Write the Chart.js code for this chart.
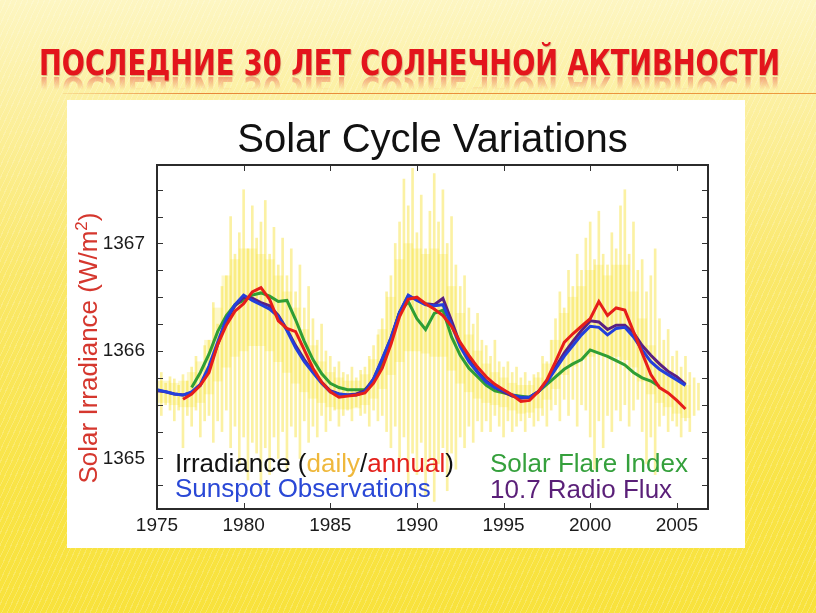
<!DOCTYPE html>
<html lang="ru">
<head>
<meta charset="utf-8">
<title>Последние 30 лет солнечной активности</title>
<script src="https://cdn.jsdelivr.net/npm/chart.js@4.4.1/dist/chart.umd.min.js"></script>
<style>
  html, body { margin: 0; padding: 0; }
  body {
    width: 816px; height: 613px; overflow: hidden; position: relative;
    background:
      repeating-linear-gradient(115deg, rgba(255,255,255,0.20) 0 1px, rgba(255,255,255,0) 1px 5px),
      linear-gradient(to bottom, #fdf6c2 0%, #fcf0a2 16%, #fae86a 45%, #f9e446 80%, #f8e23c 100%);
  }
  .ttl {
    position: absolute; left: 39px; top: 45px;
    font: bold 36px "Liberation Sans Narrow", "DejaVu Sans Condensed", "Arial Narrow", sans-serif;
    line-height: 36px; white-space: nowrap; color: #e3151c;
    transform-origin: 0 0;
  }
  #ttl { text-shadow: 1px 1px 1px rgba(110,0,0,0.25); }
  #refl {
    opacity: 0.38;
    filter: blur(0.7px);
    -webkit-mask-image: linear-gradient(to bottom, rgba(0,0,0,0) 0px, rgba(0,0,0,0) 17px, rgba(0,0,0,1) 31px);
    mask-image: linear-gradient(to bottom, rgba(0,0,0,0) 0px, rgba(0,0,0,0) 17px, rgba(0,0,0,1) 31px);
  }
  #rule {
    position: absolute; left: 63px; top: 93px; width: 753px; height: 1px;
    background: linear-gradient(to right, rgba(232,120,40,0.15), #e8883a 18%, #ec9a40);
  }
  #box { position: absolute; left: 67px; top: 100px; width: 678px; height: 448px; background: #fff; }
  #chart { display: block; }
</style>
</head>
<body>
<div class="ttl" id="ttl">ПОСЛЕДНИЕ 30 ЛЕТ СОЛНЕЧНОЙ АКТИВНОСТИ</div>
<div class="ttl" id="refl" aria-hidden="true">ПОСЛЕДНИЕ 30 ЛЕТ СОЛНЕЧНОЙ АКТИВНОСТИ</div>
<div id="rule"></div>
<div id="box"><canvas id="chart" width="678" height="448"></canvas></div>
<script>
  // годы (шаг 0.5) для сглаженных рядов
  const years = [1975,1975.5,1976,1976.5,1977,1977.5,1978,1978.5,1979,1979.5,
    1980,1980.5,1981,1981.5,1982,1982.5,1983,1983.5,1984,1984.5,
    1985,1985.5,1986,1986.5,1987,1987.5,1988,1988.5,1989,1989.5,
    1990,1990.5,1991,1991.5,1992,1992.5,1993,1993.5,1994,1994.5,
    1995,1995.5,1996,1996.5,1997,1997.5,1998,1998.5,1999,1999.5,
    2000,2000.5,2001,2001.5,2002,2002.5,2003,2003.5,2004,2004.5,
    2005,2005.5];

  const irradianceAnnual = [null,null,null,1365.55,1365.60,1365.68,1365.80,1366.06,1366.24,1366.37,
    1366.44,1366.55,1366.59,1366.48,1366.28,1366.21,1366.18,1366.01,1365.84,1365.71,
    1365.62,1365.57,1365.58,1365.59,1365.61,1365.70,1365.84,1366.06,1366.32,1366.48,
    1366.50,1366.44,1366.39,1366.33,1366.23,1366.08,1365.96,1365.85,1365.76,1365.69,
    1365.64,1365.59,1365.53,1365.54,1365.62,1365.73,1365.90,1366.08,1366.16,1366.23,
    1366.30,1366.46,1366.33,1366.40,1366.38,1366.18,1365.98,1365.78,1365.66,1365.61,
    1365.54,1365.46];

  const sunspot = [1365.64,1365.62,1365.60,1365.59,1365.62,1365.69,1365.86,1366.08,1366.30,1366.43,
    1366.52,1366.47,1366.43,1366.39,1366.32,1366.19,1366.03,1365.90,1365.80,1365.70,
    1365.62,1365.60,1365.59,1365.59,1365.62,1365.74,1365.93,1366.12,1366.36,1366.52,
    1366.47,1366.43,1366.42,1366.43,1366.24,1366.04,1365.90,1365.80,1365.71,1365.66,
    1365.63,1365.59,1365.57,1365.57,1365.62,1365.71,1365.83,1365.95,1366.05,1366.15,
    1366.23,1366.22,1366.15,1366.21,1366.22,1366.13,1366.01,1365.90,1365.83,1365.78,
    1365.73,1365.68];

  const flareIndex = [null,null,null,null,1365.66,1365.80,1365.97,1366.18,1366.33,1366.43,
    1366.47,1366.52,1366.54,1366.51,1366.46,1366.47,1366.29,1366.09,1365.92,1365.79,
    1365.70,1365.66,1365.64,1365.64,1365.64,1365.72,1365.86,1366.10,1366.36,1366.46,
    1366.30,1366.20,1366.35,1366.38,1366.13,1365.96,1365.84,1365.76,1365.68,1365.63,
    1365.61,1365.59,1365.58,1365.57,1365.62,1365.69,1365.76,1365.83,1365.88,1365.92,
    1366.01,1365.98,1365.95,1365.91,1365.87,1365.80,1365.75,1365.72,1365.67,null,
    null,null];

  const radioFlux = [1365.63,1365.62,1365.60,1365.59,1365.61,1365.68,1365.84,1366.06,1366.28,1366.42,
    1366.50,1366.49,1366.45,1366.42,1366.33,1366.20,1366.05,1365.92,1365.81,1365.71,
    1365.63,1365.60,1365.59,1365.60,1365.63,1365.74,1365.92,1366.12,1366.36,1366.51,
    1366.48,1366.44,1366.43,1366.49,1366.28,1366.06,1365.92,1365.81,1365.72,1365.66,
    1365.62,1365.58,1365.56,1365.57,1365.62,1365.72,1365.85,1365.98,1366.09,1366.19,
    1366.28,1366.27,1366.20,1366.24,1366.24,1366.17,1366.05,1365.96,1365.88,1365.81,
    1365.76,1365.69];

  // плотная часть ежедневного разброса (по полугодиям)
  const dailyCoreHigh = [1365.72,1365.72,1365.70,1365.72,1365.80,1365.90,1366.10,1366.40,1366.70,1366.85,
    1366.95,1366.95,1366.90,1366.85,1366.70,1366.55,1366.40,1366.20,1366.05,1365.90,
    1365.80,1365.75,1365.72,1365.72,1365.78,1365.92,1366.20,1366.50,1366.85,1367.00,
    1366.95,1366.90,1366.95,1366.90,1366.60,1366.35,1366.15,1366.00,1365.88,1365.80,
    1365.75,1365.70,1365.68,1365.68,1365.75,1365.88,1366.10,1366.35,1366.50,1366.60,
    1366.75,1366.80,1366.70,1366.80,1366.80,1366.55,1366.30,1366.05,1365.90,1365.82,
    1365.75,1365.68];

  const dailyCoreLow = [1365.52,1365.52,1365.50,1365.48,1365.48,1365.52,1365.60,1365.72,1365.85,1365.95,
    1366.00,1366.05,1366.05,1366.00,1365.90,1365.80,1365.70,1365.62,1365.56,1365.52,
    1365.48,1365.46,1365.46,1365.47,1365.50,1365.56,1365.65,1365.78,1365.90,1366.00,
    1366.00,1365.98,1365.95,1365.95,1365.82,1365.70,1365.62,1365.56,1365.52,1365.50,
    1365.48,1365.45,1365.42,1365.43,1365.47,1365.55,1365.65,1365.78,1365.86,1365.92,
    1365.95,1365.98,1365.95,1365.95,1365.92,1365.85,1365.72,1365.60,1365.52,1365.48,
    1365.42,1365.38];

  // ежедневные значения: размах по кварталам (мин / макс)
  const dailyYears = [1975,1975.25,1975.5,1975.75,1976,1976.25,1976.5,1976.75,
    1977,1977.25,1977.5,1977.75,1978,1978.25,1978.5,1978.75,1979,1979.25,1979.5,1979.75,
    1980,1980.25,1980.5,1980.75,1981,1981.25,1981.5,1981.75,1982,1982.25,1982.5,1982.75,
    1983,1983.25,1983.5,1983.75,1984,1984.25,1984.5,1984.75,1985,1985.25,1985.5,1985.75,
    1986,1986.25,1986.5,1986.75,1987,1987.25,1987.5,1987.75,1988,1988.25,1988.5,1988.75,
    1989,1989.25,1989.5,1989.75,1990,1990.25,1990.5,1990.75,1991,1991.25,1991.5,1991.75,
    1992,1992.25,1992.5,1992.75,1993,1993.25,1993.5,1993.75,1994,1994.25,1994.5,1994.75,
    1995,1995.25,1995.5,1995.75,1996,1996.25,1996.5,1996.75,1997,1997.25,1997.5,1997.75,
    1998,1998.25,1998.5,1998.75,1999,1999.25,1999.5,1999.75,2000,2000.25,2000.5,2000.75,
    2001,2001.25,2001.5,2001.75,2002,2002.25,2002.5,2002.75,2003,2003.25,2003.5,2003.75,
    2004,2004.25,2004.5,2004.75,2005,2005.25,2005.5,2005.75,2006,2006.25];

  const dailyHigh = [1365.72,1365.80,1365.70,1365.76, 1365.74,1365.68,1365.78,1365.72,
    1365.85,1365.95,1365.80,1366.05, 1366.10,1366.45,1366.25,1366.60, 1366.70,1367.25,1366.90,1367.10,
    1367.50,1366.95,1367.35,1367.05, 1367.20,1367.40,1366.90,1367.15, 1366.80,1367.05,1366.70,1366.95,
    1366.55,1366.80,1366.40,1366.60, 1366.30,1366.10,1366.25,1366.00, 1365.95,1365.85,1365.90,1365.80,
    1365.78,1365.85,1365.75,1365.82, 1365.85,1365.95,1366.05,1366.15, 1366.30,1366.55,1366.70,1367.00,
    1367.20,1367.60,1367.35,1367.70, 1367.10,1367.45,1366.95,1367.30, 1367.65,1367.20,1367.50,1367.00,
    1367.25,1366.80,1366.60,1366.70, 1366.40,1366.25,1366.35,1366.10, 1366.05,1365.95,1366.10,1365.90,
    1365.85,1365.90,1365.80,1365.85, 1365.75,1365.80,1365.72,1365.78, 1365.80,1365.95,1365.90,1366.10,
    1366.30,1366.55,1366.40,1366.75, 1366.60,1366.90,1366.75,1367.05, 1367.20,1366.85,1367.30,1366.90,
    1366.80,1367.10,1366.95,1367.35, 1367.50,1366.90,1367.20,1366.75, 1366.85,1366.55,1366.70,1366.95,
    1366.30,1366.10,1366.20,1365.95, 1366.00,1365.85,1365.95,1365.80, 1365.75,1365.70];

  const dailyLow = [1365.48,1365.40,1365.50,1365.45, 1365.35,1365.45,1365.10,1365.40,
    1365.30,1365.45,1365.20,1365.35, 1365.40,1365.15,1365.35,1365.25, 1365.45,1365.10,1365.30,1364.95,
    1365.20,1364.80,1365.15,1365.05, 1364.70,1365.10,1364.85,1365.20, 1365.00,1365.25,1364.90,1365.30,
    1365.20,1365.00,1365.35,1365.15, 1365.30,1365.20,1365.40,1365.25, 1365.35,1365.45,1365.30,1365.40,
    1365.45,1365.35,1365.48,1365.40, 1365.42,1365.30,1365.45,1365.35, 1365.40,1365.25,1365.10,1365.30,
    1365.00,1365.20,1364.75,1365.05, 1364.85,1365.15,1364.65,1365.00, 1364.60,1364.95,1365.10,1364.70,
    1365.05,1364.90,1365.20,1365.10, 1365.30,1365.15,1365.35,1365.25, 1365.35,1365.25,1365.40,1365.30,
    1365.20,1365.35,1365.25,1365.30, 1365.35,1365.25,1365.38,1365.30, 1365.35,1365.40,1365.30,1365.45,
    1365.50,1365.35,1365.55,1365.40, 1365.55,1365.30,1365.50,1365.45, 1365.20,1364.90,1365.35,1365.10,
    1365.40,1365.25,1365.45,1365.35, 1365.50,1365.30,1365.45,1365.55, 1365.25,1364.95,1365.20,1364.85,
    1365.30,1365.40,1365.25,1365.35, 1365.30,1365.20,1365.35,1365.25, 1365.40,1365.45];

  const yearTicks = { min: 1975, max: 2006.8, step: 5 };
  const wattTicks = { min: 1364.53, max: 1367.73, step: 0.25 };

  const FONT = '"Liberation Sans", Arial, Helvetica, sans-serif';
  Chart.defaults.font.family = FONT;

  function pts(vals){ return years.map((x, i) => ({ x, y: vals[i] })); }
  function lineSet(label, vals, color, order){
    return { type: 'line', label, data: pts(vals), borderColor: color, borderWidth: 3,
      pointRadius: 0, tension: 0, fill: false, spanGaps: false, order };
  }

  // заголовок, рамка, засечки внутрь, подписи-легенда и заголовок оси Y
  const framePlugin = {
    id: 'framePlugin',
    afterDatasetsDraw(chart){
      const { ctx, chartArea: a, scales: { x, y } } = chart;
      ctx.save();

      ctx.fillStyle = '#111';
      ctx.font = '40px ' + FONT;
      ctx.textAlign = 'center';
      ctx.textBaseline = 'alphabetic';
      ctx.fillText('Solar Cycle Variations', (a.left + a.right) / 2, a.top - 13);
      ctx.textAlign = 'left';

      ctx.font = '26px ' + FONT;
      const parts = (list, px, py) => {
        list.forEach(([t, c]) => { ctx.fillStyle = c; ctx.fillText(t, px, py); px += ctx.measureText(t).width; });
      };
      parts([['Irradiance (', '#111'], ['daily', '#efb83c'], ['/', '#111'], ['annual', '#e3201b'], [')', '#111']], a.left + 18, a.bottom - 37);
      parts([['Sunspot Observations', '#2a48d6']], a.left + 18, a.bottom - 12);
      parts([['Solar Flare Index', '#35a03c']], a.left + 333, a.bottom - 37);
      parts([['10.7 Radio Flux', '#5a1f78']], a.left + 333, a.bottom - 11);

      ctx.strokeStyle = '#333';
      ctx.lineWidth = 1;
      ctx.beginPath();
      x.ticks.forEach(t => {
        const px = Math.round(x.getPixelForValue(t.value)) + 0.5;
        ctx.moveTo(px, a.bottom); ctx.lineTo(px, a.bottom - 6);
        ctx.moveTo(px, a.top); ctx.lineTo(px, a.top + 6);
      });
      y.ticks.forEach(t => {
        const py = Math.round(y.getPixelForValue(t.value)) + 0.5;
        ctx.moveTo(a.left, py); ctx.lineTo(a.left + 6, py);
        ctx.moveTo(a.right, py); ctx.lineTo(a.right - 6, py);
      });
      ctx.stroke();

      ctx.lineWidth = 2;
      ctx.strokeStyle = '#2b2b2b';
      ctx.strokeRect(a.left, a.top, a.right - a.left, a.bottom - a.top);

      // Solar Irradiance (W/m²)
      ctx.translate(21, 248);
      ctx.rotate(-Math.PI / 2);
      ctx.fillStyle = '#d5372e';
      ctx.textBaseline = 'middle';
      const big = '26px ' + FONT, small = '17px ' + FONT;
      const t1 = 'Solar Irradiance (W/m', t2 = '2', t3 = ')';
      ctx.font = big; const w1 = ctx.measureText(t1).width, w3 = ctx.measureText(t3).width;
      ctx.font = small; const w2 = ctx.measureText(t2).width;
      let sx = -(w1 + w2 + w3) / 2;
      ctx.font = big; ctx.fillText(t1, sx, 2); sx += w1;
      ctx.font = small; ctx.fillText(t2, sx, -6); sx += w2;
      ctx.font = big; ctx.fillText(t3, sx, 2);

      ctx.restore();
    }
  };

  new Chart(document.getElementById('chart'), {
    type: 'bar',
    data: {
      datasets: [
        { type: 'bar', label: 'daily core', data: years.map((x, i) => ({ x, y: [dailyCoreLow[i], dailyCoreHigh[i]] })),
          backgroundColor: 'rgba(250,232,90,0.32)', borderWidth: 0, barThickness: 9, grouped: false, order: 7 },
        { type: 'bar', label: 'daily', data: dailyYears.map((x, i) => ({ x, y: [dailyLow[i], dailyHigh[i]] })),
          backgroundColor: 'rgba(246,224,50,0.45)', borderWidth: 0, barThickness: 2, grouped: false, order: 6 },
        lineSet('Solar Flare Index', flareIndex, '#2f9e35', 4),
        lineSet('10.7 Radio Flux', radioFlux, '#5b2080', 3),
        lineSet('Sunspot Observations', sunspot, '#2340dc', 2),
        lineSet('annual', irradianceAnnual, '#e61e1a', 1)
      ]
    },
    options: {
      responsive: false,
      animation: false,
      events: [],
      layout: { padding: { left: 0, right: 37, top: 65, bottom: 0 } },
      plugins: {
        legend: { display: false },
        tooltip: { enabled: false },
        title: { display: false }
      },
      scales: {
        x: {
          type: 'linear', min: yearTicks.min, max: yearTicks.max, offset: false,
          grid: { display: false, drawTicks: false }, border: { display: false },
          afterFit: s => { s.height = 39; },
          ticks: { stepSize: yearTicks.step, includeBounds: false, autoSkip: false, maxRotation: 0,
            padding: 5, color: '#1b1b1b', font: { size: 19 }, callback: v => String(v) }
        },
        y: {
          type: 'linear', min: wattTicks.min, max: wattTicks.max,
          grid: { display: false, drawTicks: false }, border: { display: false },
          afterFit: s => { s.width = 90; },
          ticks: { stepSize: wattTicks.step, includeBounds: false, autoSkip: false,
            padding: 12, color: '#1b1b1b', font: { size: 19 },
            callback: v => Number.isInteger(v) ? String(v) : '' }
        }
      }
    },
    plugins: [framePlugin]
  });

  // заголовок слайда: подогнать ширину под 741px
  (function(){
    const ttl = document.getElementById('ttl');
    const refl = document.getElementById('refl');
    const w = ttl.getBoundingClientRect().width;
    const s = 741 / w;
    ttl.style.transform = `scaleX(${s})`;
    refl.style.transformOrigin = '0 31px';
    refl.style.transform = `scaleX(${s}) scaleY(-1)`;
  })();
</script>
</body>
</html>
